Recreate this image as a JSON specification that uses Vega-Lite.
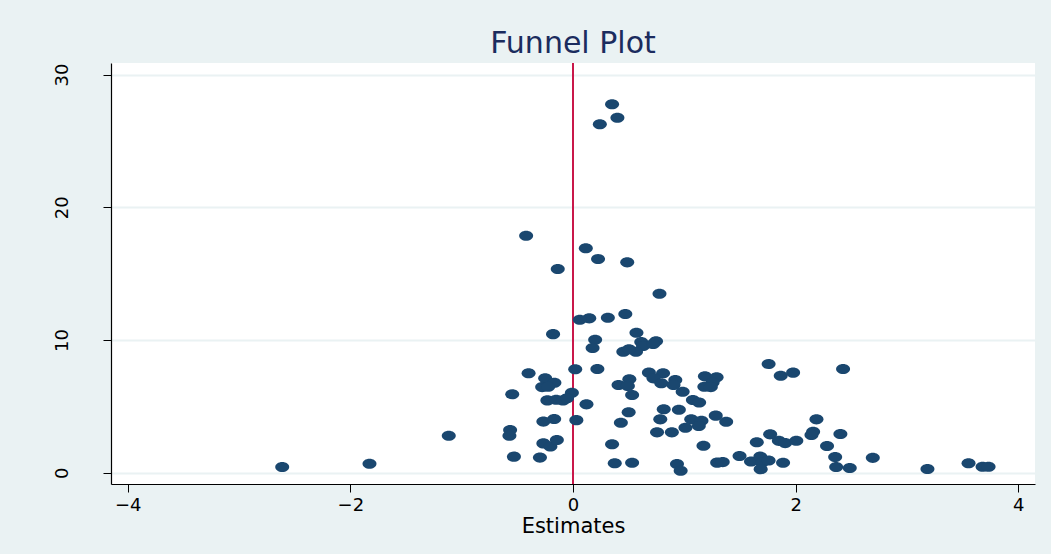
{
  "$schema": "https://vega.github.io/schema/vega-lite/v6.json",
  "width": 924,
  "height": 421,
  "autosize": {"type": "none"},
  "padding": {"left": 111, "top": 63, "right": 16, "bottom": 70},
  "background": "#EAF2F3",
  "config": {
    "view": {"fill": "white", "stroke": null},
    "font": "DejaVu Sans"
  },
  "title": {
    "text": "Funnel Plot",
    "font": "DejaVu Sans",
    "fontSize": 30,
    "fontWeight": "normal",
    "color": "#1B2C5E",
    "anchor": "middle",
    "frame": "group",
    "offset": 3
  },
  "data": {
    "values": [
      {"est": 0.351, "prec": 27.76}, {"est": 0.399, "prec": 26.75}, {"est": 0.241, "prec": 26.25},
      {"est": -0.421, "prec": 17.86}, {"est": 0.115, "prec": 16.91}, {"est": 0.225, "prec": 16.10},
      {"est": 0.487, "prec": 15.85}, {"est": -0.137, "prec": 15.35}, {"est": 0.777, "prec": 13.49},
      {"est": 0.470, "prec": 11.96}, {"est": 0.313, "prec": 11.68}, {"est": 0.146, "prec": 11.63},
      {"est": 0.061, "prec": 11.53}, {"est": -0.179, "prec": 10.44}, {"est": 0.570, "prec": 10.55},
      {"est": 0.199, "prec": 10.02}, {"est": 0.176, "prec": 9.40}, {"est": 0.613, "prec": 9.85},
      {"est": 0.629, "prec": 9.55}, {"est": 0.746, "prec": 9.90}, {"est": 0.720, "prec": 9.70},
      {"est": 0.566, "prec": 9.12}, {"est": 0.452, "prec": 9.12}, {"est": 0.503, "prec": 9.30},
      {"est": 0.020, "prec": 7.79}, {"est": 0.219, "prec": 7.81}, {"est": -0.399, "prec": 7.49},
      {"est": -0.250, "prec": 7.11}, {"est": -0.167, "prec": 6.78}, {"est": -0.277, "prec": 6.45},
      {"est": -0.223, "prec": 6.48}, {"est": -0.546, "prec": 5.91}, {"est": -0.010, "prec": 6.03},
      {"est": -0.230, "prec": 5.45}, {"est": -0.151, "prec": 5.50}, {"est": -0.090, "prec": 5.45},
      {"est": -0.054, "prec": 5.61}, {"est": 0.121, "prec": 5.15}, {"est": -0.266, "prec": 3.85},
      {"est": -0.169, "prec": 4.05}, {"est": 0.030, "prec": 3.96}, {"est": -0.565, "prec": 3.22},
      {"est": -0.571, "prec": 2.78}, {"est": -0.266, "prec": 2.21}, {"est": -0.203, "prec": 1.97},
      {"est": -0.145, "prec": 2.46}, {"est": -0.531, "prec": 1.21}, {"est": -0.297, "prec": 1.14},
      {"est": -1.116, "prec": 2.79}, {"est": -2.612, "prec": 0.43}, {"est": -1.828, "prec": 0.68},
      {"est": 0.682, "prec": 7.54}, {"est": 0.809, "prec": 7.49}, {"est": 0.723, "prec": 7.11},
      {"est": 0.793, "prec": 6.74}, {"est": 0.919, "prec": 6.99}, {"est": 0.903, "prec": 6.61},
      {"est": 0.985, "prec": 6.10}, {"est": 0.506, "prec": 7.04}, {"est": 0.409, "prec": 6.61},
      {"est": 0.493, "prec": 6.53}, {"est": 0.531, "prec": 5.86}, {"est": 1.077, "prec": 5.48},
      {"est": 1.133, "prec": 5.29}, {"est": 1.185, "prec": 7.26}, {"est": 1.290, "prec": 7.19},
      {"est": 1.254, "prec": 6.80}, {"est": 1.180, "prec": 6.48}, {"est": 1.238, "prec": 6.45},
      {"est": 0.815, "prec": 4.78}, {"est": 0.951, "prec": 4.75}, {"est": 0.500, "prec": 4.55},
      {"est": 0.784, "prec": 4.02}, {"est": 1.062, "prec": 4.02}, {"est": 1.154, "prec": 3.92},
      {"est": 0.430, "prec": 3.77}, {"est": 1.130, "prec": 3.52}, {"est": 1.010, "prec": 3.39},
      {"est": 1.282, "prec": 4.30}, {"est": 1.376, "prec": 3.84}, {"est": 0.755, "prec": 3.04},
      {"est": 0.888, "prec": 3.04}, {"est": 0.351, "prec": 2.14}, {"est": 1.172, "prec": 2.03},
      {"est": 0.375, "prec": 0.71}, {"est": 0.531, "prec": 0.75}, {"est": 0.934, "prec": 0.66},
      {"est": 0.967, "prec": 0.15}, {"est": 1.295, "prec": 0.76}, {"est": 1.345, "prec": 0.80},
      {"est": 1.496, "prec": 1.26}, {"est": 1.599, "prec": 0.85}, {"est": 1.683, "prec": 1.21},
      {"est": 1.699, "prec": 0.77}, {"est": 1.757, "prec": 0.92}, {"est": 1.686, "prec": 0.27},
      {"est": 1.651, "prec": 2.29}, {"est": 1.771, "prec": 2.89}, {"est": 1.849, "prec": 2.40},
      {"est": 1.906, "prec": 2.23}, {"est": 2.006, "prec": 2.41}, {"est": 1.887, "prec": 0.75},
      {"est": 1.757, "prec": 8.19}, {"est": 1.866, "prec": 7.30}, {"est": 1.977, "prec": 7.54},
      {"est": 2.426, "prec": 7.81}, {"est": 2.187, "prec": 4.02}, {"est": 2.157, "prec": 3.09},
      {"est": 2.142, "prec": 2.84}, {"est": 2.402, "prec": 2.92}, {"est": 2.282, "prec": 2.01},
      {"est": 2.355, "prec": 1.19}, {"est": 2.364, "prec": 0.43}, {"est": 2.486, "prec": 0.35},
      {"est": 2.693, "prec": 1.12}, {"est": 3.184, "prec": 0.28}, {"est": 3.553, "prec": 0.71},
      {"est": 3.679, "prec": 0.45}, {"est": 3.733, "prec": 0.45}
    ]
  },
  "encoding": {
    "x": {
      "field": "est",
      "type": "quantitative",
      "scale": {"domain": [-4.15, 4.15], "nice": false, "zero": false},
      "axis": {
        "title": "Estimates",
        "values": [-4, -2, 0, 2, 4],
        "grid": false,
        "domainColor": "black",
        "domainWidth": 1.2,
        "tickColor": "black",
        "tickSize": 8,
        "labelFontSize": 18,
        "labelFont": "DejaVu Sans",
        "labelColor": "black",
        "labelPadding": 4,
        "titleFont": "DejaVu Sans",
        "titleFontSize": 21,
        "titleFontWeight": "normal",
        "titleColor": "black",
        "titlePadding": 1
      }
    },
    "y": {
      "field": "prec",
      "type": "quantitative",
      "scale": {"domain": [-0.85, 30.87], "nice": false, "zero": false},
      "axis": {
        "title": null,
        "values": [0, 10, 20, 30],
        "grid": true,
        "gridColor": "#EAF2F3",
        "gridWidth": 2,
        "domainColor": "black",
        "domainWidth": 1.2,
        "tickColor": "black",
        "tickSize": 8,
        "labelAngle": 270,
        "labelFontSize": 18,
        "labelFont": "DejaVu Sans",
        "labelColor": "black",
        "labelPadding": 32
      }
    }
  },
  "layer": [
    {
      "mark": {"type": "rule", "color": "#C9184A", "strokeWidth": 2},
      "encoding": {"x": {"datum": 0}, "y": null}
    },
    {
      "mark": {
        "type": "point",
        "filled": true,
        "opacity": 1,
        "color": "#1A476F",
        "size": 196,
        "shape": "M -1 0 A 1 0.72 0 1 1 1 0 A 1 0.72 0 1 1 -1 0 Z"
      }
    }
  ]
}
